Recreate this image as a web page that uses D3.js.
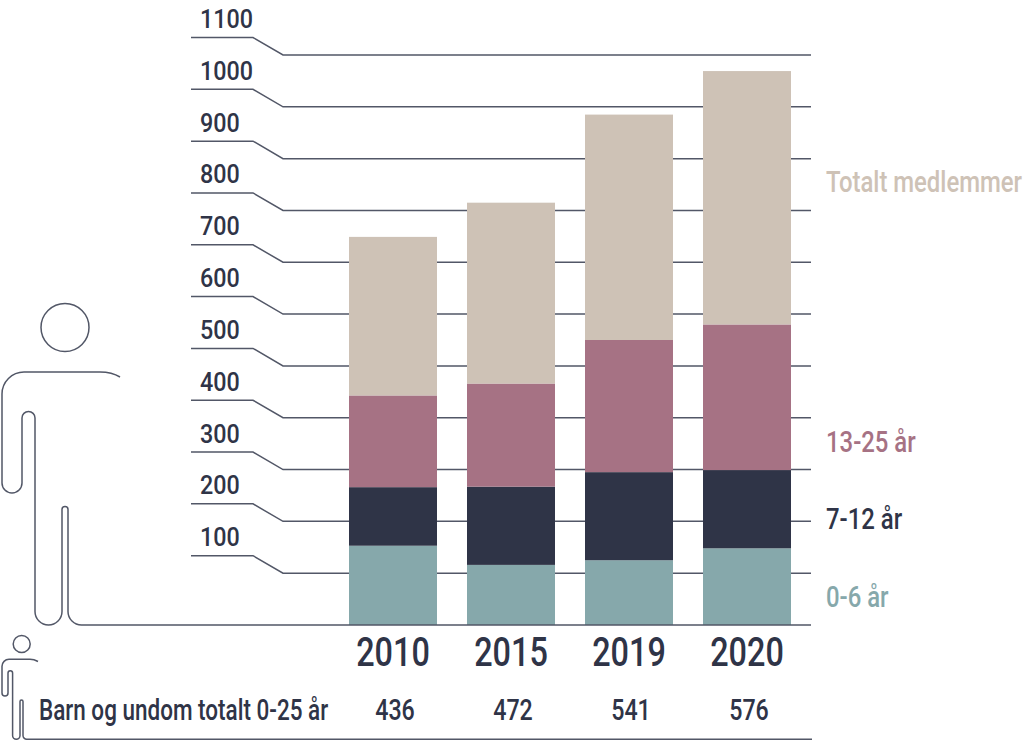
<!DOCTYPE html>
<html>
<head>
<meta charset="utf-8">
<script src="https://cdn.jsdelivr.net/npm/d3@7"></script>
<style>
  html, body { margin: 0; padding: 0; background: #fff; }
  svg { display: block; }
  text { font-family: Roboto, "Noto Sans", sans-serif; font-weight: 500; }
</style>
</head>
<body>
<svg id="chart" width="1024" height="740"></svg>
<script>
// --- DATA ---
const years = ['2010', '2015', '2019', '2020'];
const age0to6 = [153, 116, 125, 148];
const age7to12 = [113, 151, 170, 151];
const age13to25 = [177, 199, 255, 281];
const totalMembers = [749, 815, 985, 1069];
const kidsTotal = [436, 472, 541, 576];
const yTicks = [100, 200, 300, 400, 500, 600, 700, 800, 900, 1000, 1100];

const seriesKeys = ['a0', 'a7', 'a13', 'rest'];
const seriesColors = { a0: '#86a8ab', a7: '#2f3447', a13: '#a67284', rest: '#cec2b6' };
const legendItems = [
  { key: 'rest', label: 'Totalt medlemmer', y: 192 },
  { key: 'a13', label: '13-25 år', y: 452 },
  { key: 'a7', label: '7-12 år', y: 529 },
  { key: 'a0', label: '0-6 år', y: 607 }
];

const ink = '#2f3447';
const lineColor = '#525767';

const svg = d3.select('#chart');

// --- SCALES ---
const y = d3.scaleLinear().domain([0, 1100]).range([625, 55]);
const x = d3.scaleBand().domain(years).range([349, 791]).paddingInner(30 / 118).paddingOuter(0);
const y0 = y(0);

// smal tekst: Roboto horisontalt klemt sammen
function narrowText(parent, px, py, str, size, sx, anchor, fill) {
  const g = parent.append('g').attr('transform', `translate(${px},${py}) scale(${sx},1)`);
  g.append('text')
    .attr('text-anchor', anchor || 'start')
    .attr('font-size', size)
    .attr('fill', fill || ink)
    .text(str);
  return g;
}

// --- GRID (knekte linjer) ---
const grid = svg.append('g').attr('class', 'grid');
grid.selectAll('path.tick')
  .data(yTicks)
  .join('path')
    .attr('class', 'tick')
    .attr('fill', 'none')
    .attr('stroke', lineColor)
    .attr('stroke-width', 1.5)
    .attr('d', v => `M191,${y(v) - 17.5}H253L283,${y(v)}H811`);

yTicks.forEach(v => narrowText(grid, 200, y(v) - 27, String(v), 26.5, 0.88));

// --- BARS ---
const rows = years.map((yr, i) => ({
  year: yr,
  a0: age0to6[i],
  a7: age7to12[i],
  a13: age13to25[i],
  rest: totalMembers[i] - age0to6[i] - age7to12[i] - age13to25[i]
}));
const stacked = d3.stack().keys(seriesKeys)(rows);

svg.append('g').attr('class', 'bars')
  .selectAll('g')
  .data(stacked)
  .join('g')
    .attr('fill', d => seriesColors[d.key])
  .selectAll('rect')
  .data(d => d)
  .join('rect')
    .attr('x', d => x(d.data.year))
    .attr('width', x.bandwidth())
    .attr('y', d => y(d[1]))
    .attr('height', d => y(d[0]) - y(d[1]));

// --- FIGURER (stor og liten person) ---
const fig = svg.append('g').attr('class', 'figures')
  .attr('fill', 'none').attr('stroke', lineColor).attr('stroke-width', 1.5);

fig.append('circle').attr('cx', 65).attr('cy', 327.5).attr('r', 24);
fig.append('path').attr('d',
  `M120,377Q112,372 100,372H24A22,22 0 0 0 2,394V483A10,10 0 0 0 22,483V418` +
  `A6.5,6.5 0 0 1 35,418V${y0 - 13.5}A13.5,13.5 0 0 0 62,${y0 - 13.5}V509.5` +
  `A3,3 0 0 1 68,509.5V${y0 - 13.5}A13.5,13.5 0 0 0 81.5,${y0}H811`);

fig.append('circle').attr('cx', 21.7).attr('cy', 644).attr('r', 8.5);
fig.append('path').attr('d',
  'M38,661.5Q34,659.3 30,659.3H9A7,7 0 0 0 2,666.3V693A3,3 0 0 0 8,693V673' +
  'A2.3,2.3 0 0 1 12.6,673V735.5A3.7,3.7 0 0 0 20,735.5V701.5A1.5,1.5 0 0 1 23,701.5' +
  'V735.5A3.7,3.7 0 0 0 26.7,739.2H812');

// --- X-AKSE (år) ---
const xa = svg.append('g').attr('class', 'x-labels');
years.forEach(yr => narrowText(xa, x(yr) + x.bandwidth() / 2, 666, yr, 40.5, 0.8, 'middle'));

// --- BARN OG UNGDOM TOTALT ---
const kt = svg.append('g').attr('class', 'kids-total');
narrowText(kt, 39, 720, 'Barn og undom totalt 0-25 år', 30, 0.75);
years.forEach((yr, i) => narrowText(kt, x(yr) + x.bandwidth() / 2 + 2, 720, String(kidsTotal[i]), 29, 0.8, 'middle'));

// --- LEGENDE ---
const lg = svg.append('g').attr('class', 'legend');
legendItems.forEach(d => narrowText(lg, 826, d.y, d.label, 29.5, 0.81, 'start', seriesColors[d.key]));
</script>
</body>
</html>
